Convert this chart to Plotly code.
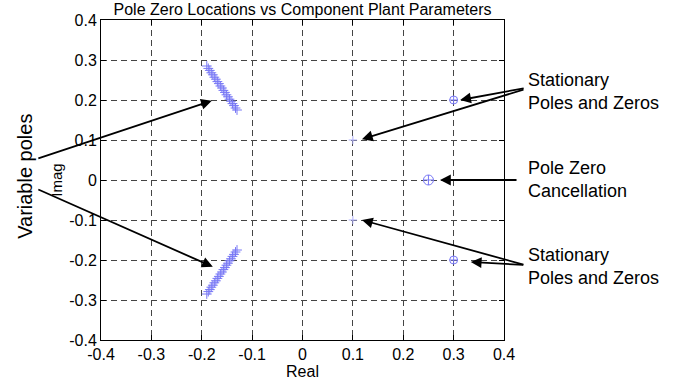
import plotly.graph_objects as go

# --- data ---
var_top_re = [-0.190, -0.187, -0.184, -0.181, -0.178, -0.175, -0.172, -0.169, -0.166, -0.163, -0.160,
              -0.157, -0.154, -0.151, -0.148, -0.145, -0.142, -0.139, -0.136, -0.133, -0.130]
var_top_im = [0.285, 0.279, 0.274, 0.268, 0.263, 0.257, 0.252, 0.246, 0.241, 0.235, 0.230,
              0.224, 0.219, 0.213, 0.208, 0.202, 0.197, 0.191, 0.186, 0.180, 0.175]
var_bot_re = [-0.190, -0.187, -0.184, -0.181, -0.178, -0.175, -0.172, -0.169, -0.166, -0.163, -0.160,
              -0.157, -0.154, -0.151, -0.148, -0.145, -0.142, -0.139, -0.136, -0.133, -0.130]
var_bot_im = [-0.285, -0.279, -0.274, -0.268, -0.263, -0.257, -0.252, -0.246, -0.241, -0.235, -0.230,
              -0.224, -0.219, -0.213, -0.208, -0.202, -0.197, -0.191, -0.186, -0.180, -0.175]
stat_outer_re = [0.3, 0.3]
stat_outer_im = [0.2, -0.2]
stat_inner_re = [0.1, 0.1]
stat_inner_im = [0.1, -0.1]
cancel_re = [0.25]
cancel_im = [0.0]
tick_vals = [-0.4, -0.3, -0.2, -0.1, 0, 0.1, 0.2, 0.3, 0.4]
tick_text = ["-0.4", "-0.3", "-0.2", "-0.1", "0", "0.1", "0.2", "0.3", "0.4"]

BLUE = "rgb(120,120,245)"
LIGHT = "rgb(175,175,250)"
FONT = "Arial, Liberation Sans, sans-serif"

fig = go.Figure()
fig.add_trace(go.Scatter(x=var_top_re + [None] + var_bot_re, y=var_top_im + [None] + var_bot_im,
                         mode="markers",
                         marker=dict(symbol="cross-thin-open", size=7, color=BLUE, line=dict(color=BLUE, width=1)),
                         showlegend=False))
fig.add_trace(go.Scatter(x=stat_outer_re, y=stat_outer_im, mode="markers",
                         marker=dict(symbol="circle-cross-open", size=8, color=BLUE, line=dict(color=BLUE, width=1)),
                         showlegend=False))
fig.add_trace(go.Scatter(x=stat_inner_re, y=stat_inner_im, mode="markers",
                         marker=dict(symbol="cross-thin-open", size=6, color=LIGHT, line=dict(color=LIGHT, width=1)),
                         showlegend=False))
fig.add_trace(go.Scatter(x=cancel_re, y=cancel_im, mode="markers",
                         marker=dict(symbol="circle-cross-open", size=10, color=BLUE, line=dict(color=BLUE, width=1)),
                         showlegend=False))

axis_common = dict(range=[-0.4, 0.4], tickvals=tick_vals, ticktext=tick_text,
                   showgrid=True, gridcolor="#444444", griddash="6px,4px", gridwidth=1,
                   zeroline=False, showline=True, linecolor="black", linewidth=1, mirror="allticks",
                   ticks="inside", ticklen=5, tickcolor="black",
                   tickfont=dict(family=FONT, size=16, color="black"))

fig.update_xaxes(**axis_common, title=dict(text="Real", font=dict(family=FONT, size=16, color="black"), standoff=2))
fig.update_yaxes(**axis_common, title=dict(text="Imag", font=dict(family=FONT, size=15, color="black"), standoff=2))

arrow = dict(showarrow=True, arrowhead=2, arrowsize=1.2, arrowwidth=1.8, arrowcolor="black",
             xref="x", yref="y", text="")
arrows = [
    (-0.180, 0.198, -175, 58),
    (-0.178, -0.217, -176, -78),
    (0.313, 0.2, 65, -12),
    (0.118, 0.102, 163, -50),
    (0.273, 0.0, 78, 0),
    (0.118, -0.100, 163, 45),
    (0.334, -0.205, 54, 3),
]
anns = []
for x, y, ax, ay in arrows:
    anns.append(dict(x=x, y=y, ax=ax, ay=ay, **arrow))

txt_font = dict(family=FONT, size=18, color="black")
anns += [
    dict(x=1.055, y=0.778, xref="paper", yref="paper", text="Stationary<br>Poles and Zeros",
         showarrow=False, xanchor="left", yanchor="middle", align="left", font=txt_font),
    dict(x=1.055, y=0.503, xref="paper", yref="paper", text="Pole Zero<br>Cancellation",
         showarrow=False, xanchor="left", yanchor="middle", align="left", font=txt_font),
    dict(x=1.055, y=0.231, xref="paper", yref="paper", text="Stationary<br>Poles and Zeros",
         showarrow=False, xanchor="left", yanchor="middle", align="left", font=txt_font),
    dict(x=-0.189, y=0.5125, xref="paper", yref="paper", text="Variable poles", textangle=-90,
         showarrow=False, xanchor="center", yanchor="middle", font=dict(family=FONT, size=20, color="black")),
]

fig.update_layout(
    width=681, height=383,
    margin=dict(l=101, r=177, t=20, b=43, autoexpand=False),
    paper_bgcolor="white", plot_bgcolor="white",
    title=dict(text="Pole Zero Locations vs Component Plant Parameters", x=(101 + 403 / 2) / 681, xanchor="center",
               y=1 - 9 / 383, yanchor="middle", font=dict(family=FONT, size=16, color="black")),
    annotations=anns,
)

fig.write_html("out.html")
